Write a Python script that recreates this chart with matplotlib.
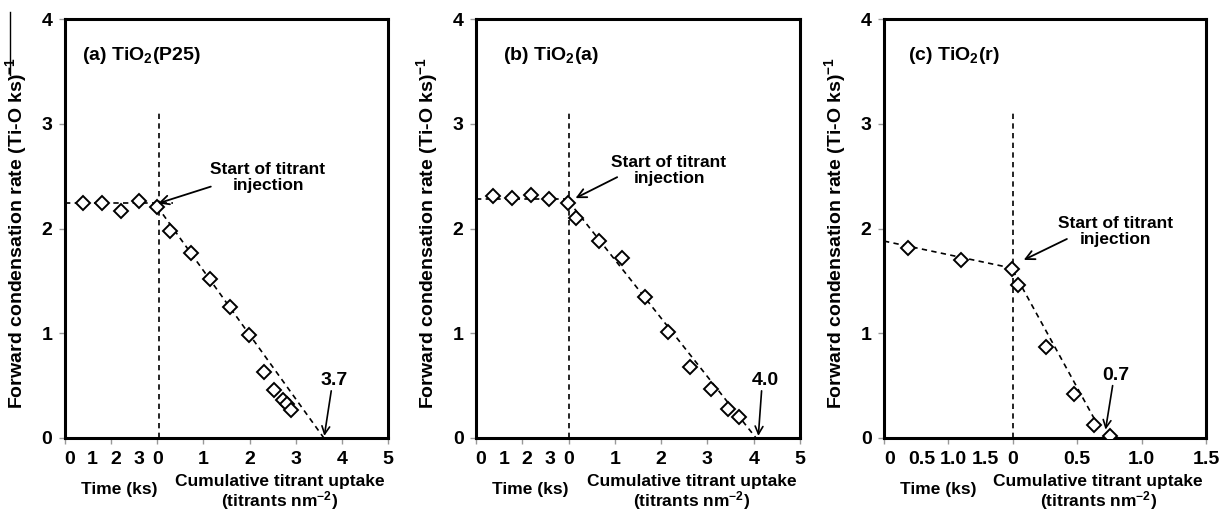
import matplotlib
matplotlib.use("Agg")
import matplotlib.pyplot as plt
from matplotlib.lines import Line2D

plt.rcParams["font.family"] = ["Liberation Sans", "DejaVu Sans"]
plt.rcParams["font.weight"] = "bold"
plt.rcParams["axes.labelweight"] = "bold"
plt.rcParams["mathtext.fontset"] = "custom"
plt.rcParams["mathtext.rm"] = "Liberation Sans:bold"
plt.rcParams["mathtext.bf"] = "Liberation Sans:bold"
plt.rcParams["mathtext.default"] = "bf"

# --- data ---
panel_names = ["(a) TiO$_2$(P25)", "(b) TiO$_2$(a)", "(c) TiO$_2$(r)"]
intercept_labels = ["3.7", "4.0", "0.7"]

# time before injection (ks) and forward rate
a_time = [0.6, 1.4, 2.24, 3.0, 3.78]
a_time_rate = [2.24, 2.24, 2.17, 2.26, 2.21]
b_time = [0.54, 1.36, 2.18, 2.96, 3.76]
b_time_rate = [2.31, 2.29, 2.32, 2.28, 2.24]
c_time = [0.3, 1.12, 1.9]
c_time_rate = [1.81, 1.70, 1.61]

# cumulative titrant uptake (titrants nm-2) and forward rate
a_uptake = [0.27, 0.72, 1.14, 1.57, 1.98, 2.32, 2.54, 2.72, 2.81, 2.90]
a_uptake_rate = [1.98, 1.77, 1.52, 1.25, 0.98, 0.63, 0.46, 0.36, 0.32, 0.27]
b_uptake = [0.17, 0.65, 1.16, 1.65, 2.15, 2.62, 3.08, 3.44, 3.68]
b_uptake_rate = [2.10, 1.88, 1.72, 1.35, 1.01, 0.68, 0.47, 0.28, 0.20]
c_uptake = [0.04, 0.26, 0.475, 0.63, 0.755]
c_uptake_rate = [1.46, 0.87, 0.42, 0.12, 0.02]

# dashed guide lines (x in uptake units of the shared axis)
a_pre = ([-2.0, 0.33], [2.245, 2.245])
a_post = ([0.0, 3.61], [2.21, 0.0])
b_pre = ([-2.0, 0.0], [2.285, 2.285])
b_post = ([0.0, 4.05], [2.26, 0.0])
c_pre = ([-1.0, 0.0], [1.88, 1.62])
c_post = ([0.0, 0.67], [1.60, 0.10])

time_ticks_ab = [0, 1, 2, 3]
time_ticks_c = [0, 0.5, 1.0, 1.5]
uptake_ticks_ab = [0, 1, 2, 3, 4, 5]
uptake_ticks_c = [0, 0.5, 1.0, 1.5]

panels = [
    dict(time=a_time, time_rate=a_time_rate, up=a_uptake, up_rate=a_uptake_rate,
         pre=a_pre, post=a_post, tticks=time_ticks_ab, uticks=uptake_ticks_ab),
    dict(time=b_time, time_rate=b_time_rate, up=b_uptake, up_rate=b_uptake_rate,
         pre=b_pre, post=b_post, tticks=time_ticks_ab, uticks=uptake_ticks_ab),
    dict(time=c_time, time_rate=c_time_rate, up=c_uptake, up_rate=c_uptake_rate,
         pre=c_pre, post=c_post, tticks=time_ticks_c, uticks=uptake_ticks_c),
]

# --- layout (pixels of a 1221x512 canvas) ---
W, H = 1221, 512
ax_left = [65, 476, 884]
ax_width = [323, 324, 322]
ax_top, ax_bottom = 19, 438
xlims = [(-2.0, 5.0), (-2.0, 5.0), (-1.0, 1.5)]
step = [1.0, 1.0, 0.5]
time_offset = [-1.9, -1.9, -0.96]   # axis position of time = 0
vline_x = [0.03, 0.0, 0.0]
title_x = [0.053, 0.083, 0.075]
text_xy = [(2.4, 2.49), (2.17, 2.55), (0.80, 1.97)]
arrow_from = [(1.16, 2.40), (1.05, 2.49), (0.42, 1.90)]
arrow_to = [(0.02, 2.24), (0.15, 2.29), (0.085, 1.70)]
num_xy = [(3.84, 0.55), (4.24, 0.55), (0.80, 0.60)]
num_to = [(3.62, 0.02), (4.10, 0.02), (0.72, 0.08)]


def fmt(v, whole):
    if abs(v) < 1e-9:
        return "0"
    return str(int(round(v))) if whole else f"{v:.1f}"


fig = plt.figure(figsize=(W / 100, H / 100), dpi=100)
dash = (0, (3.2, 2.6))

for i, p in enumerate(panels):
    ax = fig.add_axes([ax_left[i] / W, 1 - ax_bottom / H,
                       ax_width[i] / W, (ax_bottom - ax_top) / H])
    x0, x1 = xlims[i]
    ax.set_xlim(x0, x1)
    ax.set_ylim(0, 4)
    whole = step[i] == 1.0

    # time axis is compressed by half and shifted left of the injection point
    tx = [time_offset[i] + 0.5 * t for t in p["time"]]

    ax.plot(*p["pre"], color="black", lw=1.2, ls=dash, zorder=2)
    ax.plot(*p["post"], color="black", lw=1.2, ls=dash, zorder=2)
    ax.plot([vline_x[i], vline_x[i]], [0, 3.12], color="black", lw=1.2, ls=dash, zorder=2)

    ax.plot(tx, p["time_rate"], ls="none", marker="D", ms=7, mfc="white",
            mec="black", mew=1.4, zorder=3)
    ax.plot(p["up"], p["up_rate"], ls="none", marker="D", ms=7, mfc="white",
            mec="black", mew=1.4, zorder=3)

    # ticks: grid marks at uptake spacing, labels only on the uptake side
    n = int(round((x1 - x0) / step[i]))
    major = [x0 + k * step[i] for k in range(n + 1)]
    ax.set_xticks(major)
    ax.set_xticklabels(["" if v < -1e-9 else fmt(v, whole) for v in major])
    ax.set_xticks([time_offset[i] + 0.5 * t for t in p["tticks"]], minor=True)
    ax.set_xticklabels([fmt(t, whole) for t in p["tticks"]], minor=True)
    ax.tick_params(axis="x", which="major", length=4, width=1, color="#999999",
                   labelsize=14, pad=5)
    ax.tick_params(axis="x", which="minor", length=0, labelsize=14, pad=9)
    ax.set_yticks([0, 1, 2, 3, 4])
    ax.tick_params(axis="y", length=4, width=1, color="#999999", labelsize=14, pad=5)

    for s in ax.spines.values():
        s.set_linewidth(2.2)

    ax.set_ylabel("Forward condensation rate (Ti-O ks)$^{-1}$", fontsize=14,
                  fontweight="bold")
    ax.yaxis.set_label_coords(-0.112, 0.49)

    ax.text(title_x[i], 0.912, panel_names[i], transform=ax.transAxes,
            fontsize=14, ha="left", va="center")
    ax.text(*text_xy[i], "Start of titrant\ninjection", fontsize=12.5,
            ha="center", va="center", linespacing=1.1)
    ax.annotate("", xy=arrow_to[i], xytext=arrow_from[i],
                arrowprops=dict(arrowstyle="->", color="black", lw=1.3,
                                mutation_scale=16, shrinkA=0, shrinkB=0))
    ax.text(*num_xy[i], intercept_labels[i], fontsize=14, ha="center", va="center")
    ax.annotate("", xy=num_to[i], xytext=(num_xy[i][0] - 0.01 * (x1 - x0), num_xy[i][1] - 0.1),
                arrowprops=dict(arrowstyle="->", color="black", lw=1.2,
                                mutation_scale=14, shrinkA=0, shrinkB=0))

    ax.text(0.167, -0.124, "Time (ks)", transform=ax.transAxes, fontsize=12.5,
            ha="center", va="center")
    ax.text(0.665, -0.104, "Cumulative titrant uptake", transform=ax.transAxes,
            fontsize=12.5, ha="center", va="center")
    ax.text(0.665, -0.150, "(titrants nm$^{-2}$)", transform=ax.transAxes,
            fontsize=12.5, ha="center", va="center")

# thin stray stroke at the top-left of the original scan
fig.add_artist(Line2D([10 / W, 10 / W], [1 - 12 / H, 1 - 75 / H], color="black", lw=1.0))

fig.savefig("out.png", dpi=100)
